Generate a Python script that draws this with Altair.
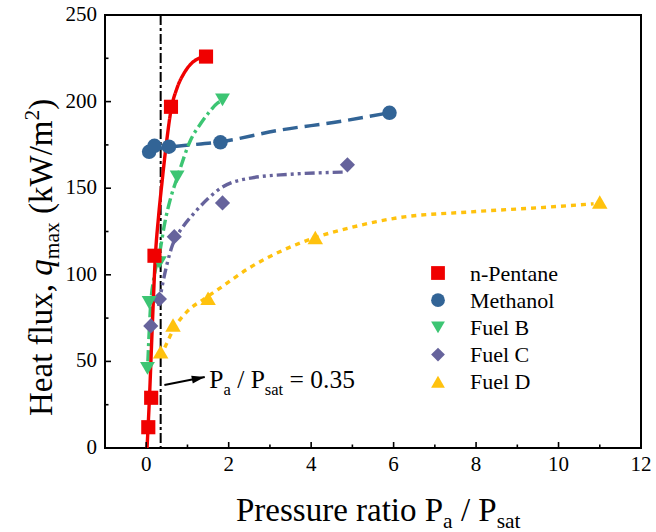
import altair as alt
import pandas as pd

FONT = "Liberation Serif"

# ---- data ----
series = ["n-Pentane", "Methanol", "Fuel B", "Fuel C", "Fuel D"]
colors = ["#F00000", "#326496", "#3CC573", "#66639C", "#FFC20E"]
shapes = ["square", "circle", "triangle-down", "diamond", "triangle-up"]
sizes = [200, 240, 290, 280, 290]

pent_x = [0.05, 0.12, 0.20, 0.60, 1.45]
pent_y = [12, 29, 111, 197, 226]
meth_x = [0.07, 0.20, 0.55, 1.80, 5.90]
meth_y = [171, 174.5, 174, 176.5, 193.5]
fb_x = [0.03, 0.07, 0.32, 0.75, 1.85]
fb_y = [46, 84, 107, 156.5, 201]
fc_x = [0.11, 0.32, 0.68, 1.85, 4.88]
fc_y = [70.5, 86, 122, 141.5, 163.5]
fd_x = [0.35, 0.65, 1.50, 4.10, 11.0]
fd_y = [55.5, 71, 86.5, 121.5, 142]

# fitted curves
pent_cx = [0.02, 0.08, 0.15, 0.22, 0.30, 0.39, 0.50, 0.60, 0.75, 0.92, 1.20, 1.46]
pent_cy = [0, 30, 72, 110, 134, 155, 178, 195, 208, 216.5, 224, 226]
meth_cx = [0.15, 0.80, 1.77, 3.23, 4.69, 5.85]
meth_cy = [172.5, 174.4, 176.7, 183.5, 188.5, 193.4]
fb_cx = [0.04, 0.10, 0.20, 0.32, 0.45, 0.60, 0.75, 1.08, 1.33, 1.53, 1.72, 1.85]
fb_cy = [50, 80, 100, 112, 130, 145, 156, 178, 187.6, 194, 199, 200.5]
fc_cx = [0.30, 0.40, 0.62, 0.90, 1.12, 1.50, 1.85, 2.57, 3.47, 4.80]
fc_cy = [82, 95, 116, 128, 134.5, 144, 150.7, 156, 158, 159.3]
fd_cx = [0.45, 0.70, 1.00, 1.40, 1.77, 2.50, 3.30, 4.10, 5.00, 6.07, 7.85, 9.70, 10.85]
fd_cy = [58, 70, 79, 86, 92, 104, 114, 121.5, 127.5, 132.8, 136.3, 139, 141]

ratio = [0.35]
arrow_x = [0.44, 1.42]
arrow_y = [36.4, 41.0]
label_x = [1.53]
label_y = [34.6]

x_major = [0, 2, 4, 6, 8, 10, 12]
x_minor = [1, 3, 5, 7, 9, 11]
y_major = [0, 50, 100, 150, 200, 250]
y_minor = [25, 75, 125, 175, 225]

dashes = [[1, 0], [15, 7], [11, 4, 3, 4], [10, 4, 3, 4, 3, 4], [5, 5]]

W, H = 536, 433

xscale = alt.Scale(domain=[-1, 12], nice=False, zero=False)
yscale = alt.Scale(domain=[0, 250], nice=False, zero=False)


def X(f):
    return alt.X(f, type="quantitative", scale=xscale, axis=None)


def Y(f):
    return alt.Y(f, type="quantitative", scale=yscale, axis=None)


color_s = alt.Scale(domain=series, range=colors)
shape_s = alt.Scale(domain=series, range=shapes)
size_s = alt.Scale(domain=series, range=sizes)

pts_sets = [(pent_x, pent_y), (meth_x, meth_y), (fb_x, fb_y), (fc_x, fc_y), (fd_x, fd_y)]
curve_sets = [(pent_cx, pent_cy), (meth_cx, meth_cy), (fb_cx, fb_cy), (fc_cx, fc_cy), (fd_cx, fd_cy)]

rows = []
for i in [4, 3, 1, 2, 0]:
    for xv, yv in zip(*pts_sets[i]):
        rows.append({"series": series[i], "x": xv, "y": yv})
pts = pd.DataFrame(rows)

layers = []

# vertical reference line
layers.append(alt.Chart(pd.DataFrame({"x": ratio})).mark_rule(
    color="black", strokeWidth=2, strokeDash=[10, 3, 3, 3]).encode(x=X("x")))

# curves
for i in [4, 3, 1, 2, 0]:
    cx, cy = curve_sets[i]
    df = pd.DataFrame({"x": cx, "y": cy})
    layers.append(alt.Chart(df).mark_line(
        color=colors[i], strokeWidth=3.4, strokeDash=dashes[i], interpolate="monotone"
    ).encode(x=X("x"), y=Y("y")))

# points
layers.append(alt.Chart(pts).mark_point(filled=True, opacity=1, strokeWidth=0).encode(
    x=X("x"), y=Y("y"),
    color=alt.Color("series:N", scale=color_s, legend=None),
    shape=alt.Shape("series:N", scale=shape_s, legend=None),
    size=alt.Size("series:N", scale=size_s, legend=None),
))

# ticks (inward)
tk = lambda vals: pd.DataFrame({"v": vals})
layers.append(alt.Chart(tk(x_major)).mark_rule(color="black", strokeWidth=1.6).encode(
    x=X("v"), y=alt.value(H), y2=alt.value(H - 6)))
layers.append(alt.Chart(tk(x_minor)).mark_rule(color="black", strokeWidth=1.6).encode(
    x=X("v"), y=alt.value(H), y2=alt.value(H - 3.5)))
layers.append(alt.Chart(tk(y_major)).mark_rule(color="black", strokeWidth=1.6).encode(
    y=Y("v"), x=alt.value(0), x2=alt.value(6)))
layers.append(alt.Chart(tk(y_minor)).mark_rule(color="black", strokeWidth=1.6).encode(
    y=Y("v"), x=alt.value(0), x2=alt.value(3.5)))

# tick labels
layers.append(alt.Chart(tk(x_major)).mark_text(
    font=FONT, fontSize=21, fontStyle="normal", color="black", align="center", baseline="top"
).encode(x=X("v"), y=alt.value(H + 6), text=alt.Text("v:Q", format="d")))
layers.append(alt.Chart(tk(y_major)).mark_text(
    font=FONT, fontSize=21, fontStyle="normal", color="black", align="right", baseline="middle"
).encode(y=Y("v"), x=alt.value(-8), text=alt.Text("v:Q", format="d")))

# legend (drawn in plot, rows stacked by index)
leg = pd.DataFrame({"series": series, "row": list(range(len(series)))})
leg_base = alt.Chart(leg).transform_calculate(py="258 + datum.row * 27.2", ty="265.5 + datum.row * 27.2")
layers.append(leg_base.mark_point(filled=True, opacity=1, strokeWidth=0).encode(
    x=alt.value(333), y=alt.Y("py:Q", scale=None),
    color=alt.Color("series:N", scale=color_s, legend=None),
    shape=alt.Shape("series:N", scale=shape_s, legend=None),
    size=alt.value(190),
))
layers.append(leg_base.mark_text(
    font=FONT, fontSize=22, fontStyle="normal", color="black", align="left", baseline="alphabetic"
).encode(x=alt.value(365), y=alt.Y("ty:Q", scale=None), text="series:N"))

# arrow
adf = pd.DataFrame({"x": arrow_x, "y": arrow_y})
layers.append(alt.Chart(adf).mark_line(color="black", strokeWidth=2).encode(x=X("x"), y=Y("y")))
layers.append(alt.Chart(adf.tail(1)).mark_point(
    shape="M-2,-0.6L0,0L-2,0.6Z", filled=True, color="black", size=170, angle=348.7,
    strokeWidth=0, opacity=1).encode(x=X("x"), y=Y("y")))

# annotation text with subscripts
ldf = pd.DataFrame({"x": label_x, "y": label_y})
ann = [("P", 0, 0, 25.5), ("a", 14.2, 6.5, 16.5), ("/ P", 27.9, 0, 25.5), ("sat", 55.5, 6.5, 16.5),
       ("= 0.35", 80.2, 0, 25.5)]
for t, dx, dy, fs in ann:
    layers.append(alt.Chart(ldf).mark_text(
        text=t, font=FONT, fontSize=fs, fontStyle="normal", align="left", baseline="alphabetic",
        dx=dx, dy=dy, color="black").encode(x=X("x"), y=Y("y")))

one = pd.DataFrame({"a": [0]})
OX, OY = 105, 15


def txt(t, x, y, fs, angle=0, style="normal"):
    kw = dict(text=t, font=FONT, fontSize=fs, align="left", baseline="alphabetic",
              color="black", fontStyle=style)
    if angle:
        kw["angle"] = angle
    return alt.Chart(one).mark_text(**kw).encode(x=alt.value(x - OX), y=alt.value(y - OY))


# x title
xb = 521
layers += [
    txt("Pressure ratio P", 236.0, xb, 33),
    txt("a", 443.1, xb + 7, 21.5),
    txt("/ P", 460.9, xb, 33),
    txt("sat", 496.7, xb + 7, 21.5),
]
# y title (rotated)
yb = 52
layers += [
    txt("Heat flux,", yb, 416.0, 33, 270),
    txt("q", yb, 275.75, 33, 270, "italic"),
    txt("max", yb + 7, 259.25, 21.5, 270),
    txt("(kW/m", yb, 214.0, 33, 270),
    txt("2", yb - 13, 120.5, 21.5, 270),
    txt(")", yb, 109.75, 33, 270),
]

chart = alt.layer(*layers).properties(
    width=W, height=H,
    padding={"left": 105, "top": 15, "right": 15, "bottom": 84},
    autosize=alt.AutoSizeParams(type="none"),
    background="white",
).configure_view(stroke="black", strokeWidth=2)

chart.save("out.html", embed_options={"renderer": "svg", "actions": False})
